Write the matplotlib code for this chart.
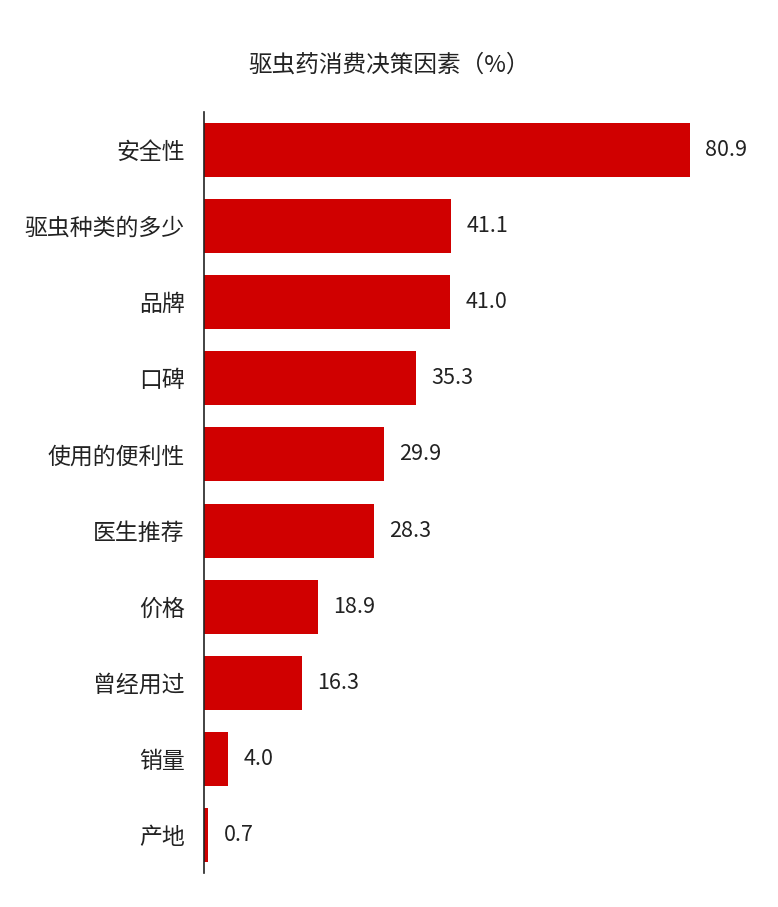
import matplotlib
matplotlib.use("Agg")
import matplotlib.pyplot as plt

plt.rcParams['font.family'] = ['Noto Sans CJK SC', 'DejaVu Sans']

title = "驱虫药消费决策因素（%）"
categories = ["安全性", "驱虫种类的多少", "品牌", "口碑", "使用的便利性",
              "医生推荐", "价格", "曾经用过", "销量", "产地"]
values = [80.9, 41.1, 41.0, 35.3, 29.9, 28.3, 18.9, 16.3, 4.0, 0.7]

W, H = 778, 907
fig = plt.figure(figsize=(W/100, H/100), dpi=100)
left, right, top, bottom = 204, 760, 112, 873
ax = fig.add_axes([left/W, 1 - bottom/H, (right-left)/W, (bottom-top)/H])

px_per_unit = (690 - 204) / 80.9
ax.set_xlim(0, (right - left) / px_per_unit)
ax.set_ylim(len(categories) - 0.5, -0.5)

y = list(range(len(categories)))
ax.barh(y, values, height=0.71, color='#D00000', zorder=2)

for yi, v in zip(y, values):
    ax.annotate(f"{v:.1f}", xy=(v, yi), xytext=(11, 0), textcoords='offset points',
                va='center', ha='left', fontsize=15.5, color='#222222')

ax.set_yticks(y)
ax.set_yticklabels(categories, fontsize=16.5, color='#222222')
ax.tick_params(axis='y', length=0, pad=14)
ax.set_xticks([])

for s in ['top', 'right', 'bottom']:
    ax.spines[s].set_visible(False)
ax.spines['left'].set_color('#222222')
ax.spines['left'].set_linewidth(1.2)
ax.spines['left'].set_zorder(3)

fig.text(389/W, 1 - 65/H, title, ha='center', va='center', fontsize=17,
         color='#222222')

fig.savefig("out.png", dpi=100, facecolor='white')
